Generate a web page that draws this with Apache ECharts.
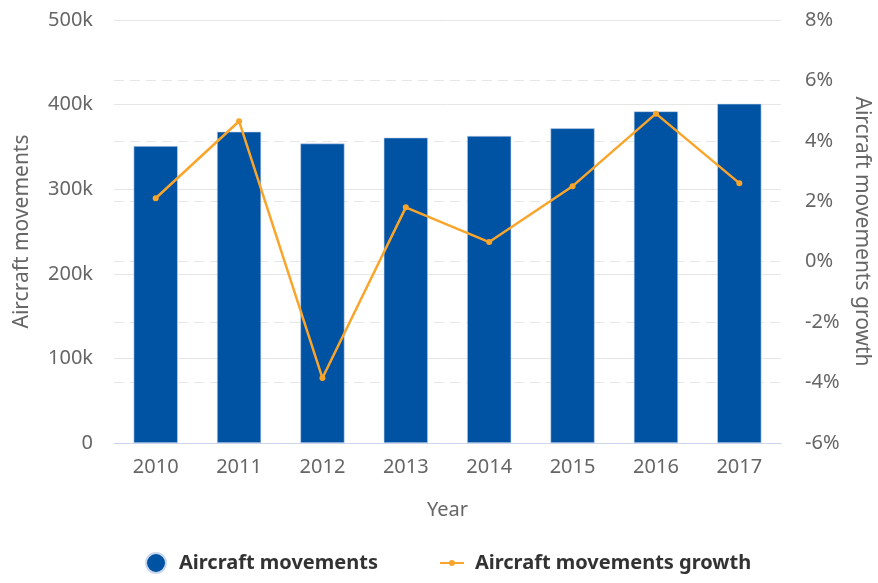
<!DOCTYPE html>
<html>
<head>
<meta charset="utf-8">
<script src="https://cdn.jsdelivr.net/npm/echarts@6/dist/echarts.min.js"></script>
<style>html,body{margin:0;padding:0;background:#fff}#c{width:878px;height:583px}</style>
</head>
<body>
<div id="c"></div>
<script>
const years = ['2010','2011','2012','2013','2014','2015','2016','2017'];
const movements = [351000, 368000, 354000, 361000, 363000, 372000, 392000, 401000];
const growth = [2.1, 4.65, -3.85, 1.8, 0.65, 2.5, 4.9, 2.6];
const leftTicks = {min: 0, max: 500000, interval: 100000};
const rightTicks = {min: -6, max: 8, interval: 2};

const font = '"Noto Sans", "Open Sans", sans-serif';
const lineIcon = 'path://M0,2 L24,2 L24,4 L0,4 Z M9,3 A3,3 0 1 1 15,3 A3,3 0 1 1 9,3 Z';
const chart = echarts.init(document.getElementById('c'));
chart.setOption({
  animation: false,
  textStyle: {fontFamily: font},
  grid: {left: 114, right: 97, top: 20, bottom: 140, outerBoundsMode: 'none', containLabel: false},
  legend: {
    bottom: 4, left: 140, itemGap: 62, itemWidth: 24, itemHeight: 20,
    textStyle: {fontSize: 20, fontWeight: 'bold', color: '#333', fontFamily: font, padding: [0, 0, 0, 6]},
    data: [
      {name: 'Aircraft movements', icon: 'circle'},
      {name: 'Aircraft movements growth', icon: lineIcon}
    ]
  },
  xAxis: {
    type: 'category', data: years,
    name: 'Year', nameLocation: 'middle', nameGap: 57,
    nameTextStyle: {fontSize: 20, color: '#666'},
    axisLine: {lineStyle: {color: '#ccd6eb', width: 1}},
    axisTick: {alignWithLabel: true, length: 10, lineStyle: {color: '#ccd6eb'}},
    axisLabel: {fontSize: 20, color: '#666', margin: 14}
  },
  yAxis: [
    {
      type: 'value', min: leftTicks.min, max: leftTicks.max, interval: leftTicks.interval,
      name: 'Aircraft movements', nameLocation: 'middle', nameGap: 81, nameRotate: 90,
      nameTextStyle: {fontSize: 21, color: '#666'},
      axisLine: {show: false}, axisTick: {show: false},
      axisLabel: {fontSize: 20, color: '#666', margin: 21,
        formatter: v => v === 0 ? '0' : (v / 1000) + 'k'},
      splitLine: {lineStyle: {color: '#e6e6e6', width: 1}}
    },
    {
      type: 'value', min: rightTicks.min, max: rightTicks.max, interval: rightTicks.interval,
      position: 'right',
      name: 'Aircraft movements growth', nameLocation: 'middle', nameGap: 70, nameRotate: -90,
      nameTextStyle: {fontSize: 21, color: '#666'},
      axisLine: {show: false}, axisTick: {show: false},
      axisLabel: {fontSize: 20, color: '#666', margin: 24, formatter: '{value}%'},
      splitLine: {lineStyle: {color: '#e6e6e6', width: 1, type: [10, 6]}}
    }
  ],
  series: [
    {
      name: 'Aircraft movements', type: 'bar', data: movements, yAxisIndex: 0,
      barWidth: '53%',
      itemStyle: {color: '#0052a3', borderColor: '#c9d7ee', borderWidth: 0.6}
    },
    {
      name: 'Aircraft movements growth', type: 'line', data: growth, yAxisIndex: 1,
      symbol: 'circle', symbolSize: 6, z: 5,
      lineStyle: {color: '#f9a52b', width: 2.5},
      itemStyle: {color: '#f9a52b'}
    }
  ]
});
</script>
</body>
</html>
